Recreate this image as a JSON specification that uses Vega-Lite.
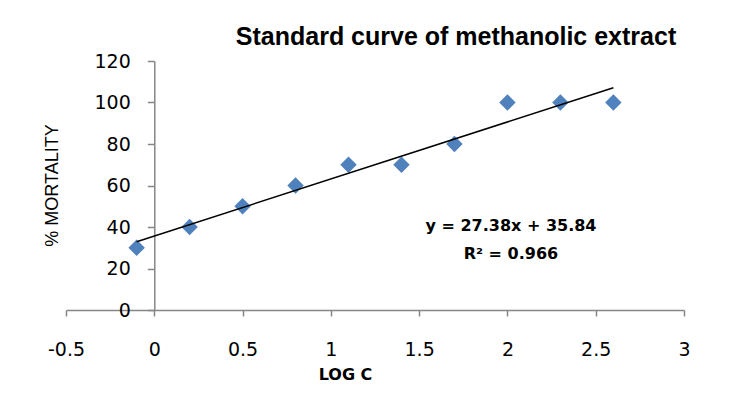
{
  "$schema": "https://vega.github.io/schema/vega-lite/v6.json",
  "autosize": {"type": "none"},
  "padding": {"left": 66, "top": 61, "right": 64, "bottom": 97},
  "width": 618,
  "height": 249,
  "background": "white",
  "title": {
    "text": "Standard curve of methanolic extract",
    "font": "Liberation Sans",
    "fontSize": 25,
    "fontWeight": "bold",
    "color": "black",
    "anchor": "middle",
    "dx": 81,
    "baseline": "alphabetic",
    "offset": -18
  },
  "config": {"view": {"stroke": null}},
  "data": {
    "values": [
      {"logC": -0.1, "mortality": 30},
      {"logC": 0.2, "mortality": 40},
      {"logC": 0.5, "mortality": 50},
      {"logC": 0.8, "mortality": 60},
      {"logC": 1.1, "mortality": 70},
      {"logC": 1.4, "mortality": 70},
      {"logC": 1.7, "mortality": 80},
      {"logC": 2.0, "mortality": 100},
      {"logC": 2.3, "mortality": 100},
      {"logC": 2.6, "mortality": 100}
    ]
  },
  "layer": [
    {
      "mark": {"type": "point", "shape": "diamond", "filled": true, "size": 270, "color": "#4F81BD", "opacity": 1},
      "encoding": {
        "x": {
          "field": "logC",
          "type": "quantitative",
          "scale": {"domain": [-0.5, 3], "nice": false, "zero": false},
          "axis": {
            "values": [-0.5, 0, 0.5, 1, 1.5, 2, 2.5, 3],
            "grid": false,
            "domainColor": "#868686",
            "domainWidth": 1.5,
            "tickColor": "#868686",
            "tickWidth": 1.5,
            "tickSize": 6,
            "labelFont": "DejaVu Sans",
            "labelFontSize": 19,
            "labelColor": "black",
            "labelPadding": 24,
            "labelExpr": "'' + datum.value",
            "labelFlush": false,
            "labelOverlap": false,
            "title": "LOG C",
            "titleFont": "DejaVu Sans",
            "titleFontSize": 16,
            "titleFontWeight": "bold",
            "titleColor": "black",
            "titleX": 279,
            "titleY": 64,
            "titleBaseline": "middle",
            "titleAlign": "center"
          }
        },
        "y": {
          "field": "mortality",
          "type": "quantitative",
          "scale": {"domain": [0, 120], "nice": false, "zero": true},
          "axis": {
            "values": [0, 20, 40, 60, 80, 100, 120],
            "offset": -88.3,
            "grid": false,
            "domainColor": "#868686",
            "domainWidth": 1.5,
            "tickColor": "#868686",
            "tickWidth": 1.5,
            "tickSize": 7,
            "labelFont": "DejaVu Sans",
            "labelFontSize": 19,
            "labelColor": "black",
            "labelPadding": 17,
            "labelFlush": false,
            "labelOverlap": false,
            "title": "% MORTALITY",
            "titleFont": "Liberation Sans",
            "titleFontSize": 18,
            "titleFontWeight": "normal",
            "titleColor": "black",
            "titleX": -102,
            "titleY": 124,
            "titleAngle": -90,
            "titleBaseline": "middle",
            "titleAlign": "center"
          }
        }
      }
    },
    {
      "transform": [{"regression": "mortality", "on": "logC", "extent": [-0.1, 2.6]}],
      "mark": {"type": "line", "color": "black", "strokeWidth": 1.5},
      "encoding": {
        "x": {"field": "logC", "type": "quantitative"},
        "y": {"field": "mortality", "type": "quantitative"}
      }
    },
    {
      "data": {"values": [{"eq": ["y = 27.38x + 35.84", "R² = 0.966"]}]},
      "mark": {"type": "text", "font": "DejaVu Sans", "fontSize": 16, "fontWeight": "bold", "color": "black", "align": "center", "baseline": "alphabetic", "lineHeight": 28.5},
      "encoding": {
        "x": {"datum": 2.02},
        "y": {"datum": 38.2},
        "text": {"field": "eq"}
      }
    }
  ]
}
